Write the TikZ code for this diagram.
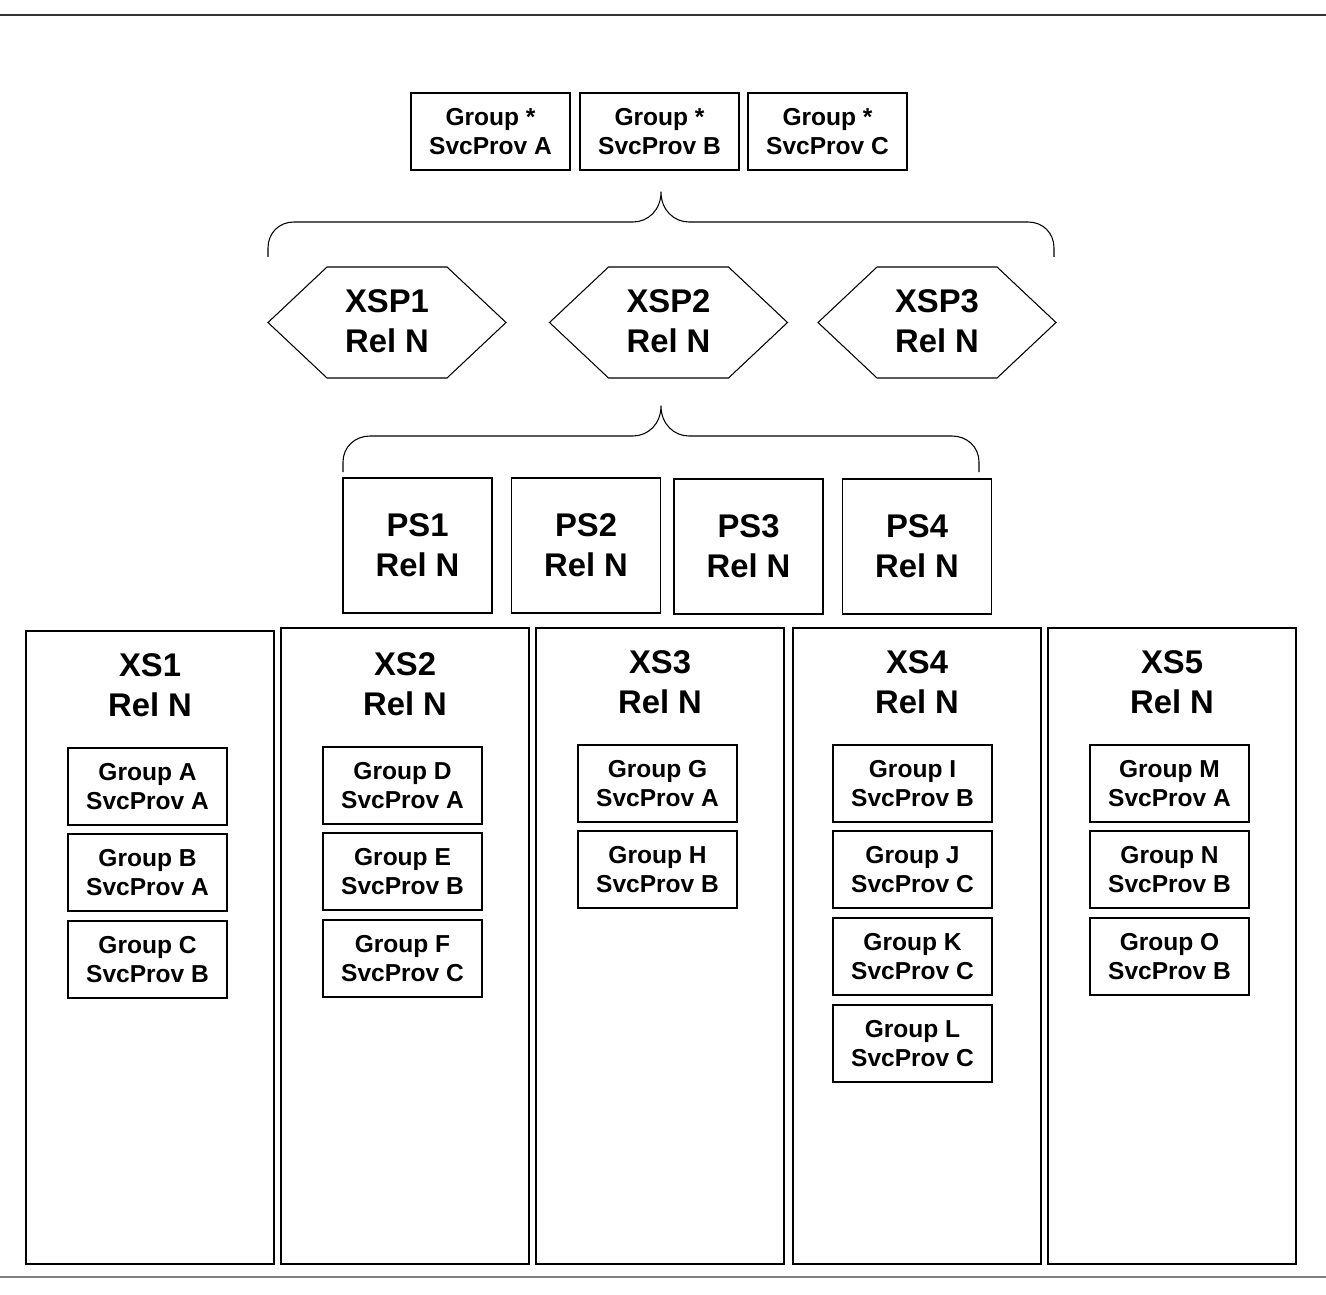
\documentclass[tikz,border=0pt]{standalone}
\usepackage{fontspec}
\setmainfont{Liberation Sans}
\begin{document}
\begin{tikzpicture}[x=0.75pt,y=-0.75pt,
  line/.style={draw=black,line width=0.8pt},
  smalltxt/.style={font=\bfseries\fontsize{18.4}{22}\selectfont,align=center},
  bigtxt/.style={font=\bfseries\fontsize{24.6}{30}\selectfont,align=center},
  grpbox/.style={line,smalltxt,rectangle,inner sep=0pt,outer sep=0pt,
    minimum width=119.25pt,minimum height=57.75pt},
  psbox/.style={line,bigtxt,rectangle,inner sep=0pt,outer sep=0pt,
    minimum width=111.75pt,minimum height=101.25pt},
  colbox/.style={line,rectangle,inner sep=0pt,outer sep=0pt,
    minimum width=186pt},
  hexlabel/.style={bigtxt,inner sep=0pt},
  brace/.style={line,line join=round}]
\useasboundingbox (0,0) rectangle (1326,1294);

% page rules
\draw[black!80,line width=1.5pt] (0,15) -- (1326,15);
\draw[black!50,line width=1.5pt] (0,1277) -- (1326,1277);

% service provider groups at the top
\node[grpbox] (gsa) at (490.5,131.5) {Group *\\SvcProv A};
\node[grpbox] (gsb) at (659.5,131.5) {Group *\\SvcProv B};
\node[grpbox] (gsc) at (827.5,131.5) {Group *\\SvcProv C};

% upper brace
\draw[brace] (268,257) -- (268,248) .. controls (268,233) and (279,222) .. (294,222)
  -- (633,222) .. controls (648,222) and (661,210) .. (661,192)
  .. controls (661,210) and (674,222) .. (689,222)
  -- (1028,222) .. controls (1043,222) and (1054,233) .. (1054,248) -- (1054,257);

% XSP hexagons
\foreach \cx/\nm in {387/1,668.5/2,937/3}{
  \draw[line,line join=miter,shift={(\cx,322.5)}]
    (-119,0) -- (-60,-55.5) -- (60,-55.5) -- (119,0) -- (60,55.5) -- (-60,55.5) -- cycle;
}
\node[hexlabel] (xsp1) at (387,321.5) {XSP1\\Rel N};
\node[hexlabel] (xsp2) at (668.5,321.5) {XSP2\\Rel N};
\node[hexlabel] (xsp3) at (937,321.5) {XSP3\\Rel N};

% lower brace
\draw[brace] (343,472) -- (343,462) .. controls (343,447) and (355,436) .. (370,436)
  -- (633,436) .. controls (648,436) and (661,424) .. (661,406)
  .. controls (661,424) and (674,436) .. (689,436)
  -- (952,436) .. controls (967,436) and (979,447) .. (979,462) -- (979,472);

% PS boxes
\node[psbox] (ps1) at (417.5,545.5) {PS1\\Rel N};
\node[psbox] (ps2) at (586,545.5) {PS2\\Rel N};
\node[psbox] (ps3) at (748.5,546.5) {PS3\\Rel N};
\node[psbox] (ps4) at (917,546.5) {PS4\\Rel N};

% XS columns
\node[colbox,minimum height=474.75pt] (xs1) at (150,947.5) {};
\node[colbox,minimum height=477pt] (xs2) at (405,946) {};
\node[colbox,minimum height=477pt] (xs3) at (660,946) {};
\node[colbox,minimum height=477pt] (xs4) at (917,946) {};
\node[colbox,minimum height=477pt] (xs5) at (1172,946) {};

\node[bigtxt] (xs1t) at (150,685) {XS1\\Rel N};
\node[bigtxt] (xs2t) at (405,684) {XS2\\Rel N};
\node[bigtxt] (xs3t) at (660,682) {XS3\\Rel N};
\node[bigtxt] (xs4t) at (917,682) {XS4\\Rel N};
\node[bigtxt] (xs5t) at (1172,682) {XS5\\Rel N};

% groups inside XS1
\node[grpbox] (ga) at (147.5,786.5) {Group A\\SvcProv A};
\node[grpbox] (gb) at (147.5,872.5) {Group B\\SvcProv A};
\node[grpbox] (gc) at (147.5,959.5) {Group C\\SvcProv B};
% groups inside XS2
\node[grpbox] (gd) at (402.5,785.5) {Group D\\SvcProv A};
\node[grpbox] (ge) at (402.5,871.5) {Group E\\SvcProv B};
\node[grpbox] (gf) at (402.5,958.5) {Group F\\SvcProv C};
% groups inside XS3
\node[grpbox] (gg) at (657.5,783.5) {Group G\\SvcProv A};
\node[grpbox] (gh) at (657.5,869.5) {Group H\\SvcProv B};
% groups inside XS4
\node[grpbox] (gi) at (912.5,783.5) {Group I\\SvcProv B};
\node[grpbox] (gj) at (912.5,869.5) {Group J\\SvcProv C};
\node[grpbox] (gk) at (912.5,956.5) {Group K\\SvcProv C};
\node[grpbox] (gl) at (912.5,1043.5) {Group L\\SvcProv C};
% groups inside XS5
\node[grpbox] (gm) at (1169.5,783.5) {Group M\\SvcProv A};
\node[grpbox] (gn) at (1169.5,869.5) {Group N\\SvcProv B};
\node[grpbox] (go) at (1169.5,956.5) {Group O\\SvcProv B};
\end{tikzpicture}
\end{document}
